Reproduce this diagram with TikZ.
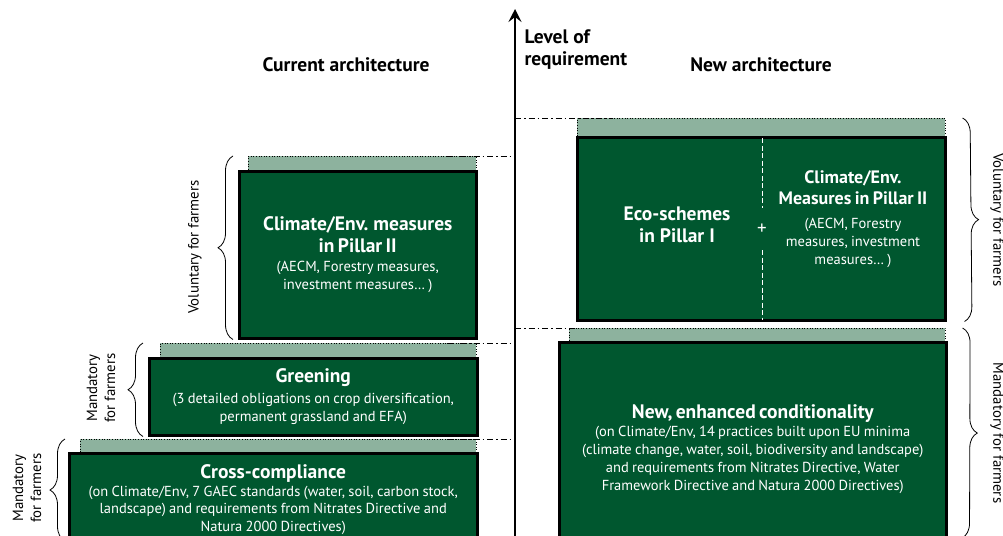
\documentclass[tikz,border=0pt]{standalone}
\usepackage{fontspec}
\setmainfont{PT Sans}
\usetikzlibrary{arrows.meta,positioning,decorations.pathreplacing,calc}
\tikzset{>/.tip={Stealth[length=13pt,width=13pt,inset=5pt]}}
\definecolor{capdark}{RGB}{0,87,47}
\definecolor{caplight}{RGB}{141,178,158}
\newcommand{\headfont}{\fontsize{19.5}{22}\selectfont\bfseries}
\newcommand{\notefont}{\fontsize{14.5}{18}\selectfont}
\newcommand{\sidefont}{\fontsize{14.8}{18}\selectfont}

\begin{document}
\begin{tikzpicture}[x=1pt,y=-1pt,
    strip/.style={draw=black,dotted,line width=0.6pt,fill=caplight,anchor=north west,inner sep=0pt},
    measure/.style={draw=black,line width=2.5pt,fill=capdark,text=white,anchor=north west,inner sep=0pt,align=center},
    level/.style={line width=0.8pt,dash pattern=on 6pt off 3pt on 1.5pt off 3pt},
    sidebrace/.style={decorate,decoration={brace,amplitude=15pt},line width=0.8pt},
    sidelabel/.style={font=\sidefont,align=center}]
  \clip (0,0) rectangle (1003,535);

  % axis
  \coordinate (axisBot) at (515,545);
  \coordinate (axisTop) at (515,9);
  \draw[->,line width=2.2pt] (axisBot) -- (axisTop);
  \node[font=\headfont,align=left,anchor=west] (levelLabel) at (521,50) {Level of\\requirement};

  % headings
  \node[font=\headfont] (curHead) at (346,65) {Current architecture};
  \node[font=\headfont] (newHead) at (761,65) {New architecture};

  % current architecture
  \node[strip,minimum width=228,minimum height=15] (clStrip) at (248,156) {};
  \node[measure,minimum width=237,minimum height=167,text width=228] (clBox) at (238,170)
    {{\headfont Climate/Env. measures\\in Pillar II\par}\vspace{1pt}
     {\notefont (AECM, Forestry measures,\\investment measures… )\par}};

  \node[strip,minimum width=316,minimum height=15] (grStrip) at (160,343) {};
  \node[measure,minimum width=328,minimum height=77,text width=320] (grBox) at (148,357)
    {{\headfont Greening\par}\vspace{3pt}
     {\notefont (3 detailed obligations on crop diversification,\\permanent grassland and EFA)\par}};

  \node[strip,minimum width=396,minimum height=15] (ccStrip) at (80,439) {};
  \node[measure,minimum width=408,minimum height=93,text width=400] (ccBox) at (68,452)
    {{\headfont Cross-compliance\par}
     {\notefont\baselineskip=17.5pt (on Climate/Env, 7 GAEC standards (water, soil, carbon stock,\\landscape) and requirements from Nitrates Directive and\\Natura 2000 Directives)\par}};

  % new architecture
  \node[strip,minimum width=368,minimum height=19] (ecoStrip) at (577,118) {};
  \node[measure,minimum width=368,minimum height=183] (ecoBox) at (576,136) {};
  \node[font=\headfont,text=white,align=center] (ecoText) at (677,225) {Eco-schemes\\in Pillar I};
  \node[text=white,align=center,text width=170] (ecoClimate) at (853,219)
    {{\fontsize{18}{20.5}\selectfont\bfseries Climate/Env.\\Measures in Pillar II\par}\vspace{6pt}
     {\notefont (AECM, Forestry\\measures, investment\\measures… )\par}};
  \node[text=white,font=\fontsize{19}{20}\selectfont,minimum height=42,inner sep=0pt] (plus) at (762,229) {+};
  \draw[white,dash pattern=on 5pt off 2.5pt,line width=0.7pt,shorten <=2pt] (plus.north |- ecoBox.north) -- (plus.north);
  \draw[white,dash pattern=on 5pt off 2.5pt,line width=0.7pt,shorten >=2pt] (plus.south) -- (plus.south |- ecoBox.south);

  \node[strip,minimum width=376,minimum height=14] (condStrip) at (569,328) {};
  \node[measure,minimum width=387,minimum height=214,text width=380] (condBox) at (558,341)
    {{\headfont New, enhanced conditionality\par}
     {\notefont (on Climate/Env, 14 practices built upon EU minima\\(climate change, water, soil, biodiversity and landscape)\\and requirements from Nitrates Directive, Water\\Framework Directive and Natura 2000 Directives)\par}};

  % level lines to the axis
  \draw[level] ([xshift=-30pt]clStrip.north east) -- (clStrip.north east -| axisTop);
  \draw[level] ([xshift=-30pt]grStrip.north east) -- (grStrip.north east -| axisTop);
  \draw[level] ([xshift=-30pt]ccStrip.north east) -- (ccStrip.north east -| axisTop);
  \draw[level] (ecoStrip.north west -| axisTop) -- ([xshift=35pt]ecoStrip.north west);
  \draw[level] (condStrip.north west -| axisTop) -- ([xshift=10pt]condStrip.north west);

  % braces
  \coordinate (ccEnd) at (65,541);
  \coordinate (condEnd) at (962,538);
  \draw[sidebrace] ([xshift=-5pt]clBox.south west) -- ([xshift=-5pt]clBox.west |- clStrip.north);
  \draw[sidebrace] ([xshift=-5pt]grBox.south west) -- ([xshift=-5pt]grBox.west |- grStrip.north);
  \draw[sidebrace] (ccEnd) -- (ccEnd |- ccStrip.north);
  \draw[sidebrace] ([xshift=17pt]ecoStrip.north east) -- ([xshift=18pt]ecoBox.south east);
  \draw[sidebrace] ([xshift=17pt]condStrip.north east) -- (condEnd);

  % side labels
  \node[sidelabel,rotate=90] (clSide) at (195,247) {Voluntary for farmers};
  \node[sidelabel,rotate=90] (grSide) at (101,388) {Mandatory\\for farmers};
  \node[sidelabel,rotate=90] (ccSide) at (27,488) {Mandatory\\for farmers};
  \node[sidelabel,rotate=-90] (ecoSide) at (997,220) {Voluntary for farmers};
  \node[sidelabel,rotate=-90] (condSide) at (997,433) {Mandatory for farmers};
\end{tikzpicture}
\end{document}
